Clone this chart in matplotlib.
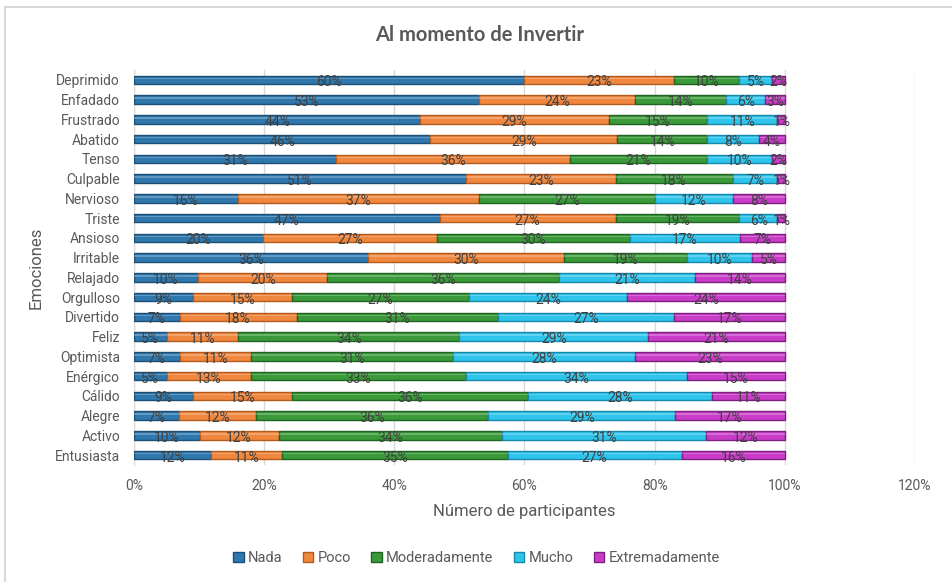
import matplotlib

matplotlib.use("Agg")
import matplotlib.pyplot as plt
import numpy as np
from matplotlib.patches import Rectangle
from matplotlib.ticker import MultipleLocator, PercentFormatter

emociones = [
    "Deprimido", "Enfadado", "Frustrado", "Abatido", "Tenso", "Culpable",
    "Nervioso", "Triste", "Ansioso", "Irritable", "Relajado", "Orgulloso",
    "Divertido", "Feliz", "Optimista", "Enérgico", "Cálido", "Alegre",
    "Activo", "Entusiasta",
]
nada = [60, 53, 44, 46, 31, 51, 16, 47, 20, 36, 10, 9, 7, 5, 7, 5, 9, 7, 10, 12]
poco = [23, 24, 29, 29, 36, 23, 37, 27, 27, 30, 20, 15, 18, 11, 11, 13, 15, 12, 12, 11]
moderadamente = [10, 14, 15, 14, 21, 18, 27, 19, 30, 19, 36, 27, 31, 34, 31, 33, 36, 36, 34, 35]
mucho = [5, 6, 11, 8, 10, 7, 12, 6, 17, 10, 21, 24, 27, 29, 28, 34, 28, 29, 31, 27]
extremadamente = [2, 3, 1, 4, 2, 1, 8, 1, 7, 5, 14, 24, 17, 21, 23, 15, 11, 17, 12, 16]

series = [
    ("Nada", nada, "#2f78ad", "#1d4f75"),
    ("Poco", poco, "#f0873f", "#b45a1c"),
    ("Moderadamente", moderadamente, "#3a9a3a", "#1f6420"),
    ("Mucho", mucho, "#2ec4ec", "#1888aa"),
    ("Extremadamente", extremadamente, "#c83cc8", "#7e1f80"),
]

plt.rcParams["font.family"] = ["Roboto", "DejaVu Sans"]
text_color = "#595959"

fig = plt.figure(figsize=(9.53, 5.82), dpi=100)
ax = fig.add_axes([0.1406, 0.201, 0.8195, 0.6787])

# border of the chart area (cropped on the right and bottom)
fig.patches.append(Rectangle((5 / 953, -0.05), 1.1, 1 - 7 / 582 + 0.05, transform=fig.transFigure,
                             fill=False, edgecolor="#d9d9d9", linewidth=1.5))

y = np.arange(len(emociones))
totals = np.sum([s[1] for s in series], axis=0)
left = np.zeros(len(emociones))
h = 0.42
for name, vals, color, dark in series:
    w = np.array(vals) / totals
    ax.barh(y, w, left=left, height=h, color=color, edgecolor=dark, linewidth=1.0,
            label=name, zorder=3)
    # light highlight strip for the cylinder look
    ax.barh(y - h * 0.18, w, left=left, height=h * 0.18, color="white", alpha=0.25,
            linewidth=0, zorder=4)
    for yi, li, wi, v in zip(y, left, w, vals):
        ax.text(li + wi / 2, yi + 0.12, f"{v}%", ha="center", va="center",
                fontsize=10, color="#404040", zorder=5)
    left += w

ax.set_ylim(len(emociones) - 0.5, -0.5)
ax.set_xlim(0, 1.2)
ax.xaxis.set_major_locator(MultipleLocator(0.2))
ax.xaxis.set_major_formatter(PercentFormatter(1.0, decimals=0))
ax.set_yticks(y)
ax.set_yticklabels(emociones)
ax.tick_params(axis="both", length=0, labelsize=10, colors=text_color)
ax.tick_params(axis="x", pad=10)
ax.tick_params(axis="y", pad=10)
ax.grid(axis="x", color="#d9d9d9", linewidth=1.0, zorder=0)
for side in ("top", "right", "bottom"):
    ax.spines[side].set_visible(False)
ax.spines["left"].set_color("#d9d9d9")

ax.set_xlabel("Número de participantes", fontsize=12, color=text_color, labelpad=8)
ax.set_ylabel("Emociones", fontsize=12, color=text_color, labelpad=8)
fig.text(0.503, 1 - 35 / 582, "Al momento de Invertir", ha="center", va="center",
         fontsize=14.5, fontweight="bold", color=text_color, family=["Lato", "DejaVu Sans"])

ax.legend(loc="center", bbox_to_anchor=(0.5, 1 - 558 / 582), bbox_transform=fig.transFigure,
          ncol=5, frameon=False, fontsize=10.5, handlelength=0.7, handleheight=0.7,
          handletextpad=0.3, columnspacing=1.4, labelcolor=text_color)

fig.savefig("out.png", dpi=100)
